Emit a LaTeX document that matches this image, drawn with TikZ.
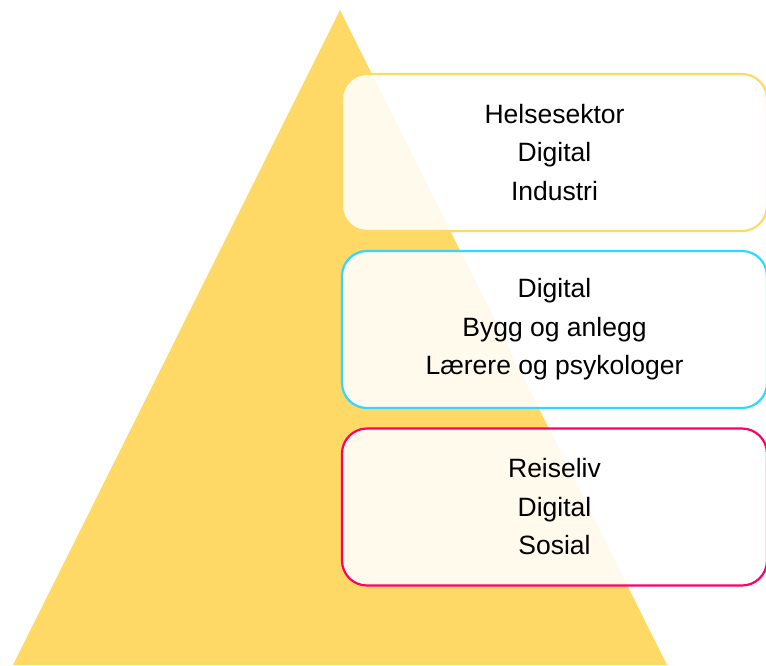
\documentclass[tikz,border=0pt]{standalone}
\usepackage{fontspec}
\setmainfont{Liberation Sans}
\definecolor{pyramidyellow}{RGB}{255, 217, 102}
\definecolor{levelcyan}{RGB}{51, 214, 255}
\definecolor{levelpink}{RGB}{255, 0, 102}
\usetikzlibrary{positioning}

\begin{document}
\begin{tikzpicture}[x=1pt, y=-1pt,
  level/.style={rounded corners=25pt, line width=2.2pt, fill=white, fill opacity=0.88, text opacity=1,
    minimum width=425pt, minimum height=157pt, align=center, inner sep=0pt,
    font=\fontsize{26.5}{38.5}\selectfont}]
  \useasboundingbox (0, 0) rectangle (766, 665);
  \fill[pyramidyellow] (340, 10) -- (13, 665) -- (667, 665) -- cycle;
  \node[level, draw=pyramidyellow] (top) at (554.5, 152.5) {Helsesektor\\Digital\\Industri};
  \node[level, draw=levelcyan] (middle) at (554.5, 329.5) {Digital\\Bygg og anlegg\\Lærere og psykologer};
  \node[level, draw=levelpink] (bottom) at (554.5, 507) {Reiseliv\\Digital\\Sosial};
\end{tikzpicture}
\end{document}
